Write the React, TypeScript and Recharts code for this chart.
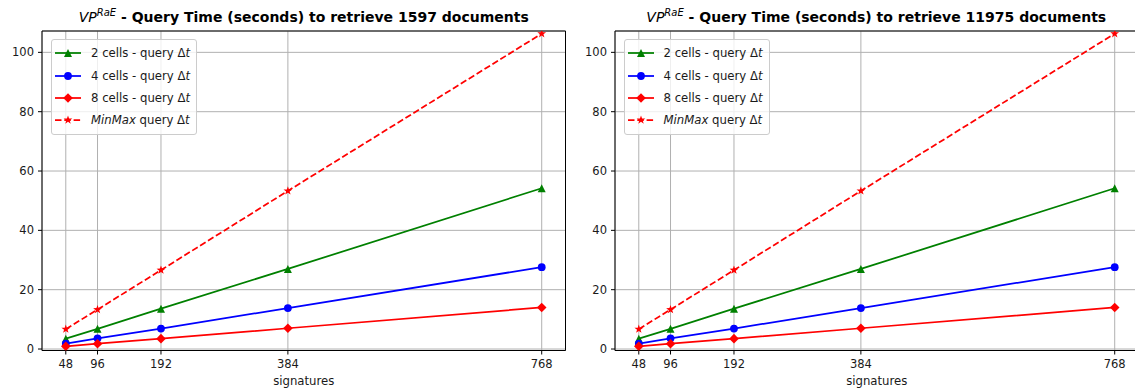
import React from "react";
import {
  CartesianGrid,
  Legend,
  Line,
  LineChart,
  ReferenceArea,
  XAxis,
  YAxis,
} from "recharts";

const signatures = [48, 96, 192, 384, 768];
const yTicks = [0, 20, 40, 60, 80, 100];

// query time in seconds, 1597 documents
const cells2Docs1597 = [3.5, 6.8, 13.6, 27.0, 54.2];
const cells4Docs1597 = [1.8, 3.6, 6.9, 13.8, 27.6];
const cells8Docs1597 = [0.9, 1.8, 3.5, 7.0, 14.0];
const minMaxDocs1597 = [6.7, 13.3, 26.6, 53.3, 106.3];

// query time in seconds, 11975 documents
const cells2Docs11975 = [3.5, 6.8, 13.6, 27.0, 54.2];
const cells4Docs11975 = [1.8, 3.6, 6.9, 13.8, 27.6];
const cells8Docs11975 = [0.9, 1.8, 3.5, 7.0, 14.0];
const minMaxDocs11975 = [6.7, 13.3, 26.6, 53.3, 106.3];

const X_DOMAIN: [number, number] = [12, 804];
const Y_DOMAIN: [number, number] = [-0.5, 107.2];

const FONT = "'DejaVu Sans', sans-serif";
const TICK = { fontSize: 11.5, fill: "#1a1a1a", fontFamily: FONT };
const LINE_W = 1.75;
const DASH = "6.5 2.8";

type MarkerKind = "triangle" | "circle" | "diamond" | "star";

type Series = {
  key: string;
  color: string;
  marker: MarkerKind;
  dashed?: boolean;
  label: React.ReactNode;
};

const SERIES: Series[] = [
  {
    key: "c2",
    color: "#008000",
    marker: "triangle",
    label: (
      <>
        2 cells - query Δ<i>t</i>
      </>
    ),
  },
  {
    key: "c4",
    color: "#0000ff",
    marker: "circle",
    label: (
      <>
        4 cells - query Δ<i>t</i>
      </>
    ),
  },
  {
    key: "c8",
    color: "#ff0000",
    marker: "diamond",
    label: (
      <>
        8 cells - query Δ<i>t</i>
      </>
    ),
  },
  {
    key: "minmax",
    color: "#ff0000",
    marker: "star",
    dashed: true,
    label: (
      <>
        <i>MinMax</i> query Δ<i>t</i>
      </>
    ),
  },
];

function starPath(cx: number, cy: number, r: number) {
  const inner = r * 0.4;
  let d = "";
  for (let i = 0; i < 10; i++) {
    const rad = i % 2 === 0 ? r : inner;
    const a = -Math.PI / 2 + (i * Math.PI) / 5;
    d += `${i === 0 ? "M" : "L"}${cx + rad * Math.cos(a)},${cy + rad * Math.sin(a)}`;
  }
  return d + "Z";
}

function MarkerShape({
  kind,
  cx,
  cy,
  color,
}: {
  kind: MarkerKind;
  cx: number;
  cy: number;
  color: string;
}) {
  if (cx == null || cy == null) return null;
  if (kind === "circle") return <circle cx={cx} cy={cy} r={3.9} fill={color} />;
  let d = "";
  if (kind === "triangle") {
    const r = 4;
    d = `M${cx},${cy - r}L${cx + r},${cy + r}L${cx - r},${cy + r}Z`;
  } else if (kind === "diamond") {
    const r = 4.8;
    d = `M${cx},${cy - r}L${cx + r},${cy}L${cx},${cy + r}L${cx - r},${cy}Z`;
  } else {
    d = starPath(cx, cy, 4.6);
  }
  return <path d={d} fill={color} />;
}

function LegendBox() {
  return (
    <div
      style={{
        boxSizing: "border-box",
        width: 146,
        background: "rgba(255,255,255,0.8)",
        border: "1px solid #cccccc",
        borderRadius: 3,
        padding: "2px 0 2px 2px",
        fontFamily: FONT,
        fontSize: 11.7,
        color: "#1a1a1a",
      }}
    >
      {SERIES.map((s) => (
        <div
          key={s.key}
          style={{ display: "flex", alignItems: "center", height: 22.4 }}
        >
          <svg width={28} height={14} style={{ flex: "none" }}>
            <line
              x1={1}
              x2={27}
              y1={7}
              y2={7}
              stroke={s.color}
              strokeWidth={LINE_W}
              strokeDasharray={s.dashed ? DASH : undefined}
            />
            <MarkerShape kind={s.marker} cx={14} cy={7} color={s.color} />
          </svg>
          <span style={{ marginLeft: 9, whiteSpace: "nowrap" }}>{s.label}</span>
        </div>
      ))}
    </div>
  );
}

type Row = { sig: number; c2: number; c4: number; c8: number; minmax: number };

function buildRows(c2: number[], c4: number[], c8: number[], mm: number[]): Row[] {
  return signatures.map((sig, i) => ({
    sig,
    c2: c2[i],
    c4: c4[i],
    c8: c8[i],
    minmax: mm[i],
  }));
}

const rows1597 = buildRows(cells2Docs1597, cells4Docs1597, cells8Docs1597, minMaxDocs1597);
const rows11975 = buildRows(cells2Docs11975, cells4Docs11975, cells8Docs11975, minMaxDocs11975);

const W = 600;
const H = 389;
const Y_AXIS_W = 42;
const PLOT_W = 523.5;

function Panel({ left, docs, data }: { left: number; docs: number; data: Row[] }) {
  return (
    <div style={{ position: "absolute", left, top: 0, width: W, height: H }}>
      <LineChart
        width={W}
        height={H}
        data={data}
        margin={{ top: 31, right: W - Y_AXIS_W - PLOT_W, bottom: 0, left: 0 }}
      >
        <CartesianGrid stroke="#b0b0b0" strokeWidth={1} />
        <XAxis
          dataKey="sig"
          type="number"
          domain={X_DOMAIN}
          ticks={signatures}
          allowDataOverflow
          height={38.5}
          tick={TICK}
          tickSize={4}
          tickMargin={5}
          tickLine={{ stroke: "#000" }}
          axisLine={false}
          label={{
            value: "signatures",
            position: "insideBottom",
            offset: 4,
            style: { fontSize: 11.7, fill: "#1a1a1a", fontFamily: FONT },
          }}
        />
        <YAxis
          type="number"
          domain={Y_DOMAIN}
          ticks={yTicks}
          allowDataOverflow
          width={Y_AXIS_W}
          tick={TICK}
          tickSize={4}
          tickMargin={4}
          tickLine={{ stroke: "#000" }}
          axisLine={false}
        />
        <ReferenceArea
          x1={X_DOMAIN[0]}
          x2={X_DOMAIN[1]}
          y1={Y_DOMAIN[0]}
          y2={Y_DOMAIN[1]}
          fill="none"
          stroke="#000"
          strokeWidth={1}
        />
        {SERIES.map((s) => (
          <Line
            key={s.key}
            dataKey={s.key}
            type="linear"
            stroke={s.color}
            strokeWidth={LINE_W}
            strokeDasharray={s.dashed ? DASH : undefined}
            isAnimationActive={false}
            activeDot={false}
            dot={(p: any) => (
              <MarkerShape
                key={`${s.key}-${p.index}`}
                kind={s.marker}
                cx={p.cx}
                cy={p.cy}
                color={s.color}
              />
            )}
          />
        ))}
        <Legend
          content={() => <LegendBox />}
          layout="vertical"
          align="center"
          verticalAlign="middle"
          wrapperStyle={{ left: 51, top: 39, width: 146 }}
        />
      </LineChart>
      <div
        style={{
          position: "absolute",
          left: Y_AXIS_W,
          width: PLOT_W,
          top: 10,
          textAlign: "center",
          fontFamily: FONT,
          fontSize: 14,
          lineHeight: "14px",
          whiteSpace: "nowrap",
          color: "#000",
        }}
      >
        <i>VP</i>
        <span style={{ fontSize: 10, position: "relative", top: -6 }}>
          <i>RaE</i>
        </span>
        <b> - Query Time (seconds) to retrieve {docs} documents</b>
      </div>
    </div>
  );
}

export default function App() {
  return (
    <div
      style={{
        position: "absolute",
        left: 0,
        top: 0,
        width: 1135,
        height: 389,
        overflow: "hidden",
        background: "#fff",
      }}
    >
      <Panel left={0} docs={1597} data={rows1597} />
      <Panel left={572.5} docs={11975} data={rows11975} />
    </div>
  );
}
